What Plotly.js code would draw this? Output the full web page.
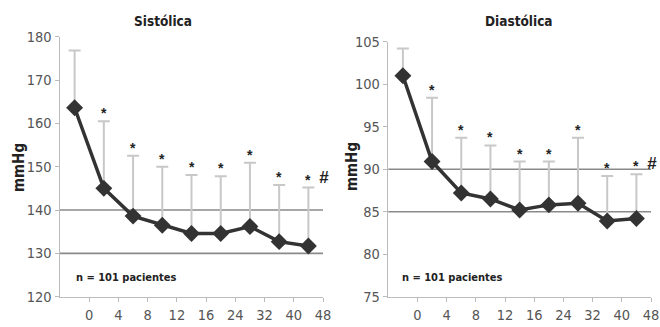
<!DOCTYPE html>
<html>
<head>
<meta charset="utf-8">
<script src="https://cdn.plot.ly/plotly-3.0.1.min.js"></script>
<style>
  html, body { margin: 0; padding: 0; background: #fff; }
  #chart { width: 660px; height: 327px; }
</style>
</head>
<body>
<div id="chart"></div>
<script>
// Time points (weeks) shown between the visits
const xLabels = ['0', '4', '8', '12', '16', '24', '32', '40', '48'];
const visits = [0.5, 1.5, 2.5, 3.5, 4.5, 5.5, 6.5, 7.5, 8.5];

// Systolic pressure: mean and mean + SD (mmHg)
const sysMean = [163.6, 145.0, 138.6, 136.5, 134.6, 134.6, 136.2, 132.7, 131.7];
const sysUpper = [176.8, 160.5, 152.5, 150.0, 148.1, 147.8, 150.9, 145.8, 145.2];
const sysRefs = [140, 130];

// Diastolic pressure: mean and mean + SD (mmHg)
const diaMean = [101.0, 90.9, 87.2, 86.5, 85.2, 85.8, 86.0, 83.9, 84.2];
const diaUpper = [104.2, 98.4, 93.7, 92.8, 90.9, 90.9, 93.7, 89.2, 89.4];
const diaRefs = [90, 85];

// Significance marks per visit
const sigMarks = ['', '*', '*', '*', '*', '*', '*', '*', '*'];
const finalMark = '#';
const sampleNote = 'n = 101 pacientes';

const FONT = '"DejaVu Sans Condensed", "Liberation Sans", Arial, sans-serif';
const MARKFONT = '"Liberation Sans", Arial, sans-serif';
const LINE = '#333333';
const ERR = '#c8c8c8';

function panel(mean, upper, xa, ya) {
  const errTrace = {
    x: visits, y: mean, xaxis: xa, yaxis: ya, type: 'scatter', mode: 'none',
    showlegend: false, hoverinfo: 'skip',
    error_y: {
      type: 'data', symmetric: false,
      array: upper.map((u, i) => u - mean[i]),
      arrayminus: mean.map(() => 0),
      color: ERR, thickness: 2, width: 6
    }
  };
  const lineTrace = {
    x: visits, y: mean, xaxis: xa, yaxis: ya, type: 'scatter', mode: 'lines+markers',
    showlegend: false,
    line: { color: LINE, width: 3.5 },
    marker: { symbol: 'diamond', size: 13, color: LINE }
  };
  return [errTrace, lineTrace];
}

const data = [].concat(
  panel(sysMean, sysUpper, 'x', 'y'),
  panel(diaMean, diaUpper, 'x2', 'y2')
);

function refShapes(refs, xa, ya) {
  return refs.map(v => ({
    type: 'line', xref: xa + ' domain', yref: ya,
    x0: 0, x1: 1, y0: v, y1: v,
    line: { color: '#8a8a8a', width: 1.6 }, layer: 'below'
  }));
}

function markAnnotations(upper, xa, ya) {
  const anns = [];
  upper.forEach((u, i) => {
    if (sigMarks[i]) {
      anns.push({
        x: visits[i], y: u, xref: xa, yref: ya, text: '<b>' + sigMarks[i] + '</b>',
        showarrow: false, xanchor: 'center', yanchor: 'bottom', yshift: -2,
        font: { family: MARKFONT, size: 14, color: '#222' }
      });
    }
  });
  const last = upper.length - 1;
  anns.push({
    x: visits[last], y: upper[last], xref: xa, yref: ya, text: '<b><i>' + finalMark + '</i></b>',
    showarrow: false, yanchor: 'bottom', xanchor: 'left', xshift: 9, yshift: -1,
    font: { family: MARKFONT, size: 17, color: '#222' }
  });
  return anns;
}

const axisFont = { family: FONT, size: 14.5, color: '#555' };

function xAxis(domain, anchor) {
  return {
    domain: domain, anchor: anchor, range: [0, 9],
    tickmode: 'array', tickvals: [1, 2, 3, 4, 5, 6, 7, 8, 9], ticktext: xLabels,
    ticks: 'outside', ticklen: 4, tickcolor: '#bbb', tickwidth: 1,
    showline: true, linecolor: '#bbb', linewidth: 1.5, ticklabeloverflow: 'allow',
    showgrid: false, zeroline: false, tickfont: axisFont, fixedrange: true
  };
}
function yAxis(domain, anchor, range, dtick) {
  return {
    domain: domain, anchor: anchor, range: range, dtick: dtick, tick0: range[0],
    ticks: 'outside', ticklen: 4, tickcolor: '#bbb', tickwidth: 1,
    showline: true, linecolor: '#bbb', linewidth: 1.5,
    showgrid: false, zeroline: false, tickfont: axisFont, fixedrange: true
  };
}

const titleFont = { family: FONT, size: 13.5, color: '#222' };
const unitFont = { family: FONT, size: 15, color: '#222' };
const noteFont = { family: FONT, size: 11, color: '#222' };

const layout = {
  width: 660, height: 327,
  margin: { l: 0, r: 0, t: 0, b: 0 },
  paper_bgcolor: '#fff', plot_bgcolor: '#fff',
  font: { family: FONT },
  showlegend: false,
  xaxis: xAxis([60 / 660, 323 / 660], 'y'),
  yaxis: yAxis([30.3 / 327, 290.3 / 327], 'x', [120, 180], 10),
  xaxis2: xAxis([388.3 / 660, 651 / 660], 'y2'),
  yaxis2: yAxis([30.3 / 327, 285.3 / 327], 'x2', [75, 105], 5),
  shapes: [].concat(refShapes(sysRefs, 'x', 'y'), refShapes(diaRefs, 'x2', 'y2')),
  annotations: [].concat(
    markAnnotations(sysUpper, 'x', 'y'),
    markAnnotations(diaUpper, 'x2', 'y2'),
    [
      { text: '<b>Sistólica</b>', xref: 'paper', yref: 'paper', x: 163 / 660, y: 1 - 21 / 327,
        xanchor: 'center', yanchor: 'middle', showarrow: false, font: titleFont },
      { text: '<b>Diastólica</b>', xref: 'paper', yref: 'paper', x: 519 / 660, y: 1 - 21 / 327,
        xanchor: 'center', yanchor: 'middle', showarrow: false, font: titleFont },
      { text: '<b>mmHg</b>', xref: 'paper', yref: 'paper', x: 19 / 660, y: 1 - 168 / 327,
        xanchor: 'center', yanchor: 'middle', textangle: -90, showarrow: false, font: unitFont },
      { text: '<b>mmHg</b>', xref: 'paper', yref: 'paper', x: 352 / 660, y: 1 - 167 / 327,
        xanchor: 'center', yanchor: 'middle', textangle: -90, showarrow: false, font: unitFont },
      { text: '<b>' + sampleNote + '</b>', xref: 'paper', yref: 'paper', x: 74 / 660, y: 1 - 277 / 327,
        xanchor: 'left', yanchor: 'middle', showarrow: false, font: noteFont },
      { text: '<b>' + sampleNote + '</b>', xref: 'paper', yref: 'paper', x: 400 / 660, y: 1 - 277 / 327,
        xanchor: 'left', yanchor: 'middle', showarrow: false, font: noteFont }
    ]
  )
};

Plotly.newPlot('chart', data, layout, { displayModeBar: false, staticPlot: true });
</script>
</body>
</html>
